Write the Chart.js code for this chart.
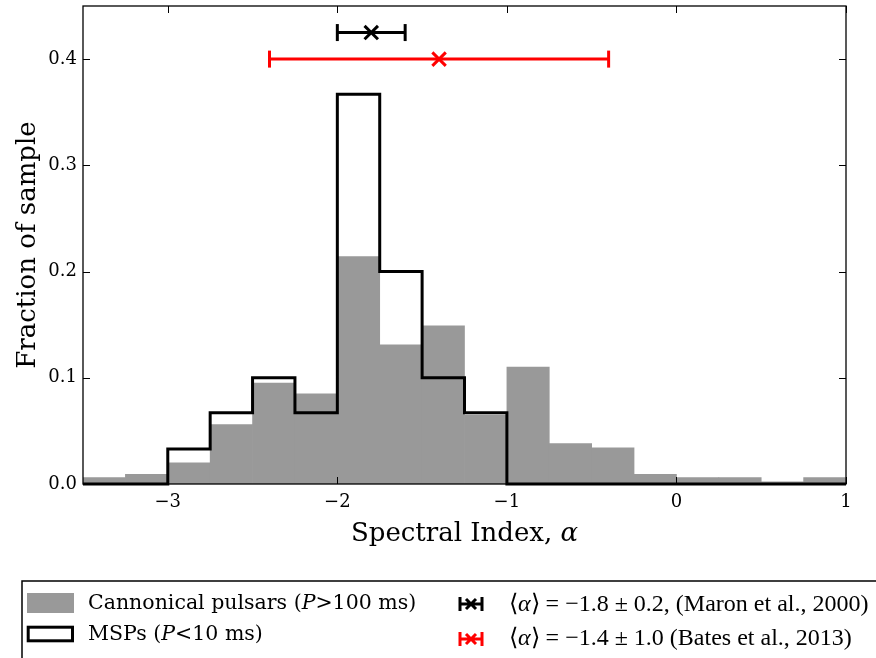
<!DOCTYPE html>
<html>
<head>
<meta charset="utf-8">
<script src="https://cdn.jsdelivr.net/npm/chart.js@4.4.0/dist/chart.umd.min.js"></script>
<style>
  html, body { margin: 0; padding: 0; background: #fff; }
  #wrap { width: 876px; height: 658px; }
</style>
</head>
<body>
<div id="wrap"><canvas id="chart" width="876" height="658"></canvas></div>
<script>
// histogram bins (width 0.25)
const binCenters = [-3.375, -3.125, -2.875, -2.625, -2.375, -2.125, -1.875, -1.625, -1.375,
                    -1.125, -0.875, -0.625, -0.375, -0.125, 0.125, 0.375, 0.625, 0.875];
const binEdges = [-3.5, -3.25, -3.0, -2.75, -2.5, -2.25, -2.0, -1.75, -1.5, -1.25,
                  -1.0, -0.75, -0.5, -0.25, 0, 0.25, 0.5, 0.75, 1.0];
// canonical pulsars (grey filled)
const canonical = [0.006, 0.009, 0.020, 0.056, 0.095, 0.085, 0.214, 0.131, 0.149,
                   0.065, 0.110, 0.038, 0.034, 0.009, 0.006, 0.006, 0.002, 0.006];
// MSPs (black step outline)
const msp = [0, 0, 0.033, 0.067, 0.100, 0.067, 0.367, 0.200, 0.100,
             0.067, 0, 0, 0, 0, 0, 0, 0, 0];
// mean spectral index measurements: Maron et al. 2000, Bates et al. 2013
const errMeans = [-1.8, -1.4];
const errHalf = [0.2, 1.0];
const errLevels = [0.425, 0.40];
const errColors = ['#000000', '#ff0000'];

const xTicks = [-3, -2, -1, 0, 1];
const yTicks = [0.0, 0.1, 0.2, 0.3, 0.4];

const serif = 'DejaVu Serif';

function fmtX(v) {
  return v < 0 ? '\u2212' + (-v) : String(v);
}

// first point at the left edge, then value of bin i reaching to edge i+1
const stepData = binEdges.map((x, i) => ({ x: x, y: msp[Math.max(i - 1, 0)] }));

const datasets = [
  {
    type: 'bar',
    label: 'Cannonical pulsars',
    data: binCenters.map((x, i) => ({ x: x, y: canonical[i] })),
    backgroundColor: '#999999',
    borderWidth: 0,
    barPercentage: 1.0,
    categoryPercentage: 1.0,
    order: 10
  },
  {
    type: 'line',
    label: 'MSPs',
    data: stepData,
    stepped: 'after',
    borderColor: '#000',
    borderWidth: 3,
    pointRadius: 0,
    fill: false,
    clip: false,
    order: 2
  }
];

errMeans.forEach((m, i) => {
  // the bar with its caps
  datasets.push({
    type: 'line',
    data: [{ x: m - errHalf[i], y: errLevels[i] }, { x: m + errHalf[i], y: errLevels[i] }],
    borderColor: errColors[i],
    borderWidth: 3,
    pointStyle: 'line',
    rotation: 90,
    pointRadius: 8.5,
    pointBorderWidth: 3,
    pointBorderColor: errColors[i],
    clip: false,
    order: 1
  });
  // the x marker at the mean
  datasets.push({
    type: 'line',
    data: [{ x: m, y: errLevels[i] }],
    showLine: false,
    pointStyle: 'crossRot',
    pointRadius: 9.5,
    pointBorderWidth: 3,
    pointBorderColor: errColors[i],
    clip: false,
    order: 0
  });
});

function drawRuns(ctx, x, y, runs) {
  runs.forEach(r => {
    ctx.font = r.f;
    ctx.fillText(r.t, x, y);
    x += ctx.measureText(r.t).width;
  });
  return x;
}

function errIcon(ctx, cx, cy, color) {
  ctx.save();
  ctx.strokeStyle = color;
  ctx.lineWidth = 3;
  ctx.beginPath();
  ctx.moveTo(cx - 11, cy); ctx.lineTo(cx + 11, cy);
  ctx.moveTo(cx - 11, cy - 7); ctx.lineTo(cx - 11, cy + 7);
  ctx.moveTo(cx + 11, cy - 7); ctx.lineTo(cx + 11, cy + 7);
  ctx.moveTo(cx - 5, cy - 5); ctx.lineTo(cx + 5, cy + 5);
  ctx.moveTo(cx - 5, cy + 5); ctx.lineTo(cx + 5, cy - 5);
  ctx.stroke();
  ctx.restore();
}

const framePlugin = {
  id: 'frame',
  afterDatasetsDraw(chart) {
    const ctx = chart.ctx;
    const a = chart.chartArea;
    const sx = chart.scales.x, sy = chart.scales.y;
    ctx.save();
    ctx.strokeStyle = '#000';
    ctx.lineWidth = 1.3;
    ctx.strokeRect(a.left, a.top, a.right - a.left, a.bottom - a.top);
    ctx.lineWidth = 1;
    ctx.beginPath();
    xTicks.forEach(v => {
      const px = Math.round(sx.getPixelForValue(v)) + 0.5;
      ctx.moveTo(px, a.bottom); ctx.lineTo(px, a.bottom - 7);
      ctx.moveTo(px, a.top); ctx.lineTo(px, a.top + 7);
    });
    yTicks.forEach(v => {
      const py = Math.round(sy.getPixelForValue(v)) + 0.5;
      ctx.moveTo(a.left, py); ctx.lineTo(a.left + 7, py);
      ctx.moveTo(a.right, py); ctx.lineTo(a.right - 7, py);
    });
    ctx.stroke();
    ctx.restore();
  },
  afterDraw(chart) {
    const ctx = chart.ctx;
    const a = chart.chartArea;
    ctx.save();
    ctx.fillStyle = '#000';
    ctx.textBaseline = 'alphabetic';
    ctx.textAlign = 'left';

    // x axis title with italic alpha
    const t1 = 'Spectral Index, ', t2 = '\u03b1';
    ctx.font = '26px "' + serif + '"';
    const w1 = ctx.measureText(t1).width;
    ctx.font = 'italic 26px "' + serif + '"';
    const w2 = ctx.measureText(t2).width;
    const x0 = (a.left + a.right) / 2 - (w1 + w2) / 2;
    drawRuns(ctx, x0, 541, [
      { t: t1, f: '26px "' + serif + '"' },
      { t: t2, f: 'italic 26px "' + serif + '"' }
    ]);

    // legend frame
    ctx.strokeStyle = '#000';
    ctx.lineWidth = 1.5;
    ctx.beginPath();
    ctx.moveTo(22, 660); ctx.lineTo(22, 581); ctx.lineTo(878, 581);
    ctx.stroke();

    // swatches
    ctx.fillStyle = '#999999';
    ctx.fillRect(27, 593, 47, 20);
    ctx.lineWidth = 3;
    ctx.strokeRect(28.2, 627.2, 44.3, 13.6);

    ctx.fillStyle = '#000';
    const lf = '20.5px "' + serif + '"', lfi = 'italic 20.5px "' + serif + '"';
    drawRuns(ctx, 88, 609, [
      { t: 'Cannonical pulsars (', f: lf },
      { t: 'P', f: lfi },
      { t: '>100 ms)', f: lf }
    ]);
    drawRuns(ctx, 88, 640, [
      { t: 'MSPs (', f: lf },
      { t: 'P', f: lfi },
      { t: '<10 ms)', f: lf }
    ]);

    errIcon(ctx, 471, 604, errColors[0]);
    errIcon(ctx, 471, 639, errColors[1]);
    const rf = '24px "Liberation Serif"', rfi = 'italic 24px "Liberation Serif"';
    drawRuns(ctx, 509, 611, [
      { t: '\u27e8', f: rf },
      { t: '\u03b1', f: rfi },
      { t: '\u27e9 = \u22121.8 \u00b1 0.2, (Maron et al., 2000)', f: rf }
    ]);
    drawRuns(ctx, 509, 645, [
      { t: '\u27e8', f: rf },
      { t: '\u03b1', f: rfi },
      { t: '\u27e9 = \u22121.4 \u00b1 1.0 (Bates et al., 2013)', f: rf }
    ]);
    ctx.restore();
  }
};

new Chart(document.getElementById('chart'), {
  type: 'bar',
  data: { datasets: datasets },
  options: {
    responsive: false,
    animation: false,
    layout: { autoPadding: false, padding: { top: 6, right: 30, bottom: 134, left: 0 } },
    plugins: { legend: { display: false }, tooltip: { enabled: false } },
    scales: {
      x: {
        type: 'linear',
        min: -3.5,
        max: 1,
        offset: false,
        afterBuildTicks: s => { s.ticks = xTicks.map(v => ({ value: v })); },
        afterFit: s => { s.height = 40; s.paddingLeft = 0; s.paddingRight = 0; },
        grid: { display: false, drawTicks: false },
        border: { display: false },
        ticks: {
          color: '#000',
          padding: 8,
          maxRotation: 0,
          font: { family: serif, size: 18 },
          callback: v => fmtX(v)
        }
      },
      y: {
        type: 'linear',
        min: 0,
        max: 0.45,
        afterBuildTicks: s => { s.ticks = yTicks.map(v => ({ value: v })); },
        afterFit: s => { s.width = 83; s.paddingTop = 0; s.paddingBottom = 0; },
        grid: { display: false, drawTicks: false },
        border: { display: false },
        ticks: {
          color: '#000',
          padding: 6,
          font: { family: serif, size: 18 },
          callback: v => Number(v).toFixed(1)
        },
        title: {
          display: true,
          text: 'Fraction of sample',
          color: '#000',
          font: { family: serif, size: 26 },
          padding: { top: 13, bottom: 0 }
        }
      }
    }
  },
  plugins: [framePlugin]
});
</script>
</body>
</html>
